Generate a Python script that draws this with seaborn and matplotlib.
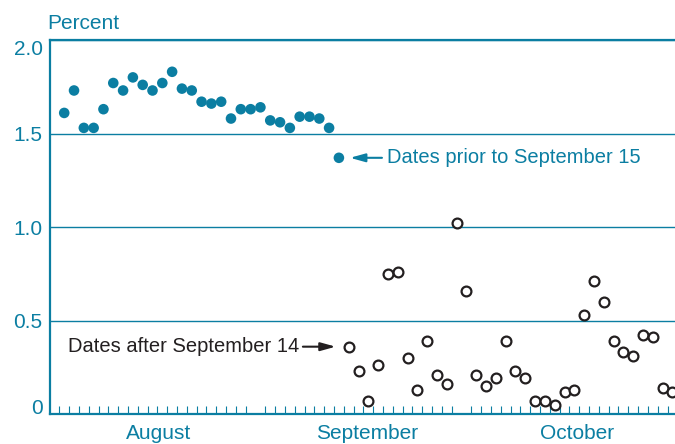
import numpy as np
import pandas as pd
import matplotlib
matplotlib.use("Agg")
import matplotlib.pyplot as plt
import seaborn as sns

teal = "#0b7ea2"
dark = "#231f20"

holidays = ["2008-09-01"]  # Labor Day, no trading day on the axis

# filled dots: dates prior to September 15
before_dates = pd.bdate_range("2008-08-04", "2008-09-12", freq="C", holidays=holidays)
before_pct = [1.61, 1.73, 1.53, 1.53, 1.63, 1.77, 1.73, 1.80, 1.76, 1.73,
              1.77, 1.83, 1.74, 1.73, 1.67, 1.66, 1.67, 1.58, 1.63, 1.63,
              1.64, 1.57, 1.56, 1.53, 1.59, 1.59, 1.58, 1.53, 1.37]

# open circles: dates after September 14
after_dates = pd.bdate_range("2008-09-15", "2008-10-30", freq="C", holidays=holidays)
after_pct = [0.36, 0.23, 0.07, 0.26, 0.75, 0.76, 0.30, 0.13, 0.39, 0.21,
             0.16, 1.02, 0.66, 0.21, 0.15, 0.19, 0.39, 0.23, 0.19, 0.07,
             0.07, 0.05, 0.12, 0.13, 0.53, 0.71, 0.60, 0.39, 0.33, 0.31,
             0.42, 0.41, 0.14, 0.12]

months = ["August", "September", "October"]
month_starts = ["2008-08-01", "2008-09-01", "2008-10-01"]
yticks = [0, 0.5, 1.0, 1.5, 2.0]
ytick_labels = ["0", "0.5", "1.0", "1.5", "2.0"]


def trading_day(dates):
    # position on the axis = trading days since August 1, centred in the day slot
    d = np.asarray(dates, dtype="datetime64[D]")
    return np.busday_count("2008-08-01", d, holidays=holidays) + 0.5


before = pd.DataFrame({"day": trading_day(before_dates), "pct": before_pct})
after = pd.DataFrame({"day": trading_day(after_dates), "pct": after_pct})

sns.set_style("white")
plt.rcParams["font.family"] = ["Liberation Sans", "DejaVu Sans"]

fig = plt.figure(figsize=(6.75, 4.44), dpi=100)
ax = fig.add_axes([49.5 / 675, 30 / 444, 1 - 49.5 / 675, 374 / 444])

sns.scatterplot(data=before, x="day", y="pct", color=teal, s=58,
                edgecolor="none", ax=ax, zorder=3)
sns.scatterplot(data=after, x="day", y="pct", color="white", s=50,
                edgecolor=dark, linewidth=1.6, ax=ax, zorder=3)

ax.set_xlim(0, 63.76)
ax.set_ylim(0, 2.0)
ax.set_xlabel("")
ax.set_ylabel("")

# y axis: labels only, gridlines across
ax.set_yticks(yticks, ytick_labels)
ax.tick_params(axis="y", length=0, pad=5, labelsize=15, labelcolor=teal)
ax.yaxis.grid(True, color=teal, linewidth=1.0)
ax.set_axisbelow(True)
labels = ax.get_yticklabels()
labels[0].set_va("baseline")
labels[-1].set_va("top")

# x axis: small tick per trading day, tall tick at month boundaries
bounds = np.busday_count("2008-08-01", np.array(month_starts[1:], dtype="datetime64[D]"),
                         holidays=holidays)
ax.set_xticks(bounds, ["", ""])
ax.set_xticks(np.arange(1, 64), minor=True)
ax.tick_params(axis="x", which="major", direction="in", length=17, width=0.8,
               color=teal)
ax.tick_params(axis="x", which="minor", direction="in", length=5.5, width=0.8,
               color=teal, bottom=True)
for name, x in zip(months, [11.1, 32.4, 53.8]):
    ax.text(x, -24.5 / 374, name, transform=ax.get_xaxis_transform(),
            ha="center", va="baseline", fontsize=15, color=teal)

for side in ["left", "bottom", "top"]:
    ax.spines[side].set_color(teal)
    ax.spines[side].set_linewidth(1.6)
ax.spines["right"].set_visible(False)

fig.text(47 / 675, 1 - 29 / 444, "Percent", ha="left", va="baseline",
         fontsize=15, color=teal)

# callouts
last_before = before.iloc[-1]
ax.annotate("Dates prior to September 15", xy=(last_before.day, last_before.pct),
            xytext=(34.5, 0), textcoords="offset points", va="center",
            fontsize=14.5, color=teal)
ax.annotate("", xy=(last_before.day, last_before.pct), xytext=(31, 0),
            textcoords="offset points",
            arrowprops=dict(arrowstyle="-|>,head_length=0.9,head_width=0.25",
                            color=teal, lw=1.5, shrinkA=0, shrinkB=8))

first_after = after.iloc[0]
ax.annotate("Dates after September 14", xy=(first_after.day, first_after.pct),
            xytext=(-35.3, 0), textcoords="offset points", va="center", ha="right",
            fontsize=14.5, color=dark)
ax.annotate("", xy=(first_after.day, first_after.pct), xytext=(-33, 0),
            textcoords="offset points",
            arrowprops=dict(arrowstyle="-|>,head_length=0.9,head_width=0.25",
                            color=dark, lw=1.5, shrinkA=0, shrinkB=9.4))

fig.savefig("out.png", dpi=100)
